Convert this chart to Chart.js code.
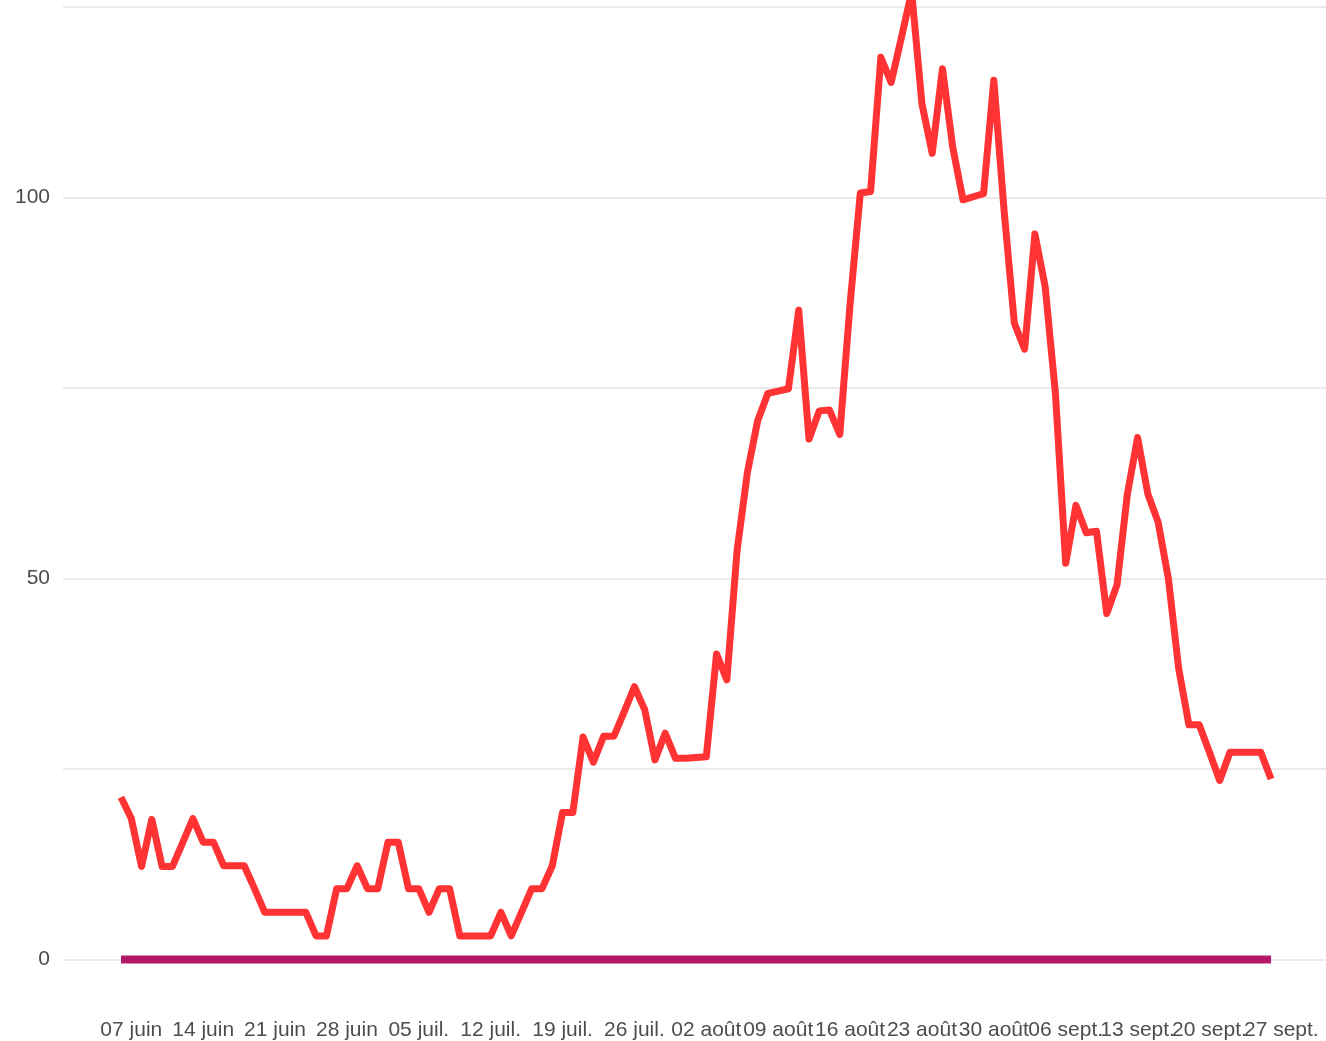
<!DOCTYPE html>
<html>
<head>
<meta charset="utf-8">
<script src="https://cdn.jsdelivr.net/npm/chart.js@4.4.1/dist/chart.umd.min.js"></script>
<style>
  html, body { margin: 0; padding: 0; background: #ffffff; }
  #wrap { width: 1326px; height: 1041px; position: relative; }
</style>
</head>
<body>
<div id="wrap"><canvas id="c" width="1326" height="1041"></canvas></div>
<script>
// Daily series, first day = 06 juin, last day = 26 sept.
const incidence = [
  21.3, 18.5, 12.2, 18.4, 12.2, 12.2, 15.3, 18.5, 15.4, 15.4,
  12.3, 12.3, 12.3, 9.3, 6.2, 6.2, 6.2, 6.2, 6.2, 3.1,
  3.1, 9.3, 9.3, 12.3, 9.3, 9.3, 15.4, 15.4, 9.3, 9.3,
  6.2, 9.3, 9.3, 3.1, 3.1, 3.1, 3.1, 6.2, 3.1, 6.2,
  9.3, 9.3, 12.3, 19.3, 19.3, 29.2, 25.9, 29.3, 29.3, 32.5,
  35.8, 32.8, 26.2, 29.7, 26.4, 26.4, 26.5, 26.6, 40.1, 36.7,
  53.7, 63.9, 70.7, 74.3, 74.6, 74.9, 85.2, 68.3, 72.0, 72.1,
  68.9, 86.0, 100.6, 100.8, 118.4, 115.1, 121.0, 127.0, 112.3, 105.8,
  116.9, 106.6, 99.7, 100.1, 100.5, 115.4, 98.3, 83.5, 80.1, 95.2,
  88.3, 74.3, 52.0, 59.6, 56.0, 56.2, 45.4, 49.2, 61.0, 68.5,
  61.1, 57.4, 50.0, 38.2, 30.8, 30.8, 27.2, 23.5, 27.2, 27.2,
  27.2, 27.2, 23.7
];
const baseline = [
  0, 0, 0, 0, 0, 0, 0, 0, 0, 0, 0, 0, 0, 0, 0, 0, 0, 0, 0, 0,
  0, 0, 0, 0, 0, 0, 0, 0, 0, 0, 0, 0, 0, 0, 0, 0, 0, 0, 0, 0,
  0, 0, 0, 0, 0, 0, 0, 0, 0, 0, 0, 0, 0, 0, 0, 0, 0, 0, 0, 0,
  0, 0, 0, 0, 0, 0, 0, 0, 0, 0, 0, 0, 0, 0, 0, 0, 0, 0, 0, 0,
  0, 0, 0, 0, 0, 0, 0, 0, 0, 0, 0, 0, 0, 0, 0, 0, 0, 0, 0, 0,
  0, 0, 0, 0, 0, 0, 0, 0, 0, 0, 0, 0, 0
];
// x tick positions (day index from 06 juin) and their labels
const xTickDays = [1, 8, 15, 22, 29, 36, 43, 50, 57, 64, 71, 78, 85, 92, 99, 106, 113];
const xTickLabels = ["07 juin", "14 juin", "21 juin", "28 juin", "05 juil.", "12 juil.", "19 juil.", "26 juil.",
  "02 août", "09 août", "16 août", "23 août", "30 août", "06 sept.", "13 sept.", "20 sept.", "27 sept."];
const yGridValues = [0, 25, 50, 75, 100, 125];
const yLabelValues = [0, 50, 100];

const toPoints = arr => arr.map((v, i) => ({ x: i, y: v }));
const tickFont = { family: "'Liberation Sans', Arial, sans-serif", size: 21 };
const tickColor = '#4d4d4d';

new Chart(document.getElementById('c'), {
  type: 'line',
  data: {
    datasets: [
      {
        data: toPoints(incidence),
        borderColor: 'rgb(255,51,51)',
        borderWidth: 7,
        pointRadius: 0,
        tension: 0,
        borderJoinStyle: 'round',
        borderCapStyle: 'butt',
        fill: false
      },
      {
        data: toPoints(baseline),
        borderColor: 'rgb(180,24,104)',
        borderWidth: 8,
        pointRadius: 0,
        tension: 0,
        borderCapStyle: 'butt',
        fill: false
      }
    ]
  },
  options: {
    responsive: false,
    animation: false,
    devicePixelRatio: 1,
    layout: { padding: 0 },
    plugins: { legend: { display: false }, tooltip: { enabled: false } },
    scales: {
      x: {
        type: 'linear',
        min: -5.65,
        max: 117.35,
        grid: { display: false, drawTicks: false },
        border: { display: false },
        afterBuildTicks: s => { s.ticks = xTickDays.map(v => ({ value: v })); },
        afterFit: s => { s.height = 34; s.paddingLeft = 0; s.paddingRight = 0; s.paddingTop = 0; s.paddingBottom = 0; },
        ticks: {
          autoSkip: false,
          maxRotation: 0,
          minRotation: 0,
          padding: 11,
          color: tickColor,
          font: tickFont,
          callback: v => { const k = xTickDays.indexOf(v); return k >= 0 ? xTickLabels[k] : ''; }
        }
      },
      y: {
        type: 'linear',
        min: -6.23,
        max: 125.92,
        grid: { color: '#ebebeb', lineWidth: 2, drawTicks: false },
        border: { display: false },
        afterBuildTicks: s => { s.ticks = yGridValues.map(v => ({ value: v })); },
        afterFit: s => { s.width = 63; s.paddingLeft = 0; s.paddingRight = 0; s.paddingTop = 0; s.paddingBottom = 0; },
        ticks: {
          padding: 13,
          color: tickColor,
          font: tickFont,
          callback: v => yLabelValues.includes(v) ? String(v) : ''
        }
      }
    }
  }
});
</script>
</body>
</html>
